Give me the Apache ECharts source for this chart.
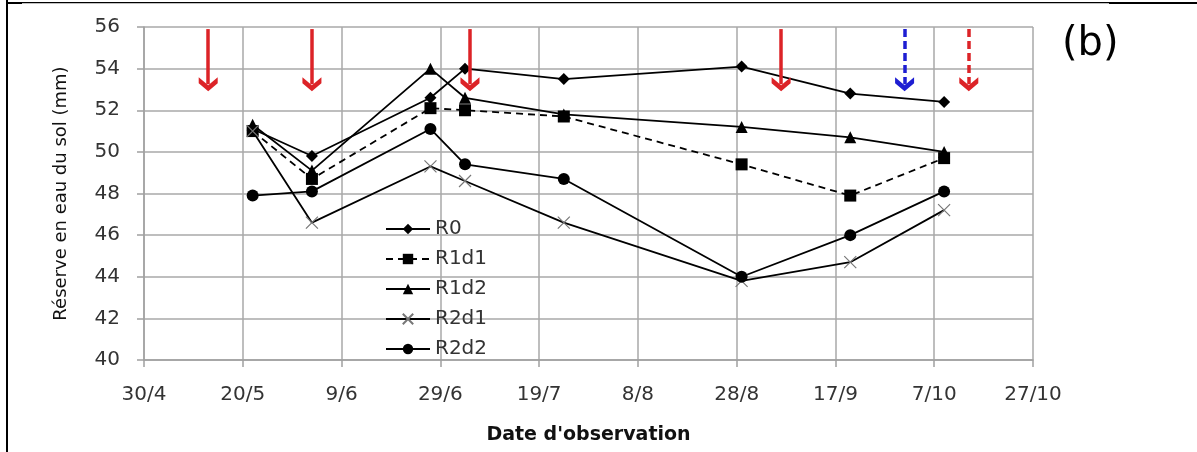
<!DOCTYPE html>
<html>
<head>
<meta charset="utf-8">
<script src="https://cdn.jsdelivr.net/npm/echarts@6/dist/echarts.min.js"></script>
<style>
html,body{margin:0;padding:0;background:#fff;}
#chart{width:1197px;height:452px;}
</style>
</head>
<body>
<div id="chart"></div>
<script>
// ---- Data ----
const dates = ['22/5', '3/6', '27/6', '4/7', '24/7', '29/8', '20/9', '9/10'];
const R0   = [51.1, 49.8, 52.6, 54.0, 53.5, 54.1, 52.8, 52.4];
const R1d1 = [51.0, 48.7, 52.1, 52.0, 51.7, 49.4, 47.9, 49.7];
const R1d2 = [51.3, 49.1, 54.0, 52.6, 51.8, 51.2, 50.7, 50.0];
const R2d1 = [51.0, 46.6, 49.3, 48.6, 46.6, 43.8, 44.7, 47.2];
const R2d2 = [47.9, 48.1, 51.1, 49.4, 48.7, 44.0, 46.0, 48.1];
const xTickStart = '30/4';
const xTickEnd = '27/10';
const yMin = 40, yMax = 56, yStep = 2;
// irrigation arrows: date, kind
const arrowDates = ['13/5', '3/6', '5/7', '6/9', '1/10', '14/10'];
const arrowKinds = ['red', 'red', 'red', 'red', 'blueDash', 'redDash'];
const arrowTop = 55.9, arrowEnd = 53.25;

// ---- helpers ----
const YEAR = 2010;
function toDate(s){ const [d,m] = s.split('/').map(Number); return new Date(YEAR, m-1, d); }
const base = toDate(xTickStart).getTime();
function dayOf(s){ return Math.round((toDate(s).getTime() - base) / 864e5); }
function fmtDay(v){ const dt = new Date(base + v*864e5 + 3600e3*2); return dt.getDate() + '/' + (dt.getMonth()+1); }
const xMax = dayOf(xTickEnd);
const pairs = arr => arr.map((v,i) => [dayOf(dates[i]), v]);

const FONT = 'DejaVu Sans';
const red = '#dc2327', blue = '#1e1ed2';
const chevron = 'path://M9,0L18,8L18,14L9,6L0,14L0,8Z';

const arrowData = arrowDates.map((d,i) => {
  const k = arrowKinds[i];
  const col = k === 'blueDash' ? blue : red;
  return [
    {coord: [dayOf(d), arrowTop], lineStyle: {color: col, width: 3.5, type: k === 'red' ? 'solid' : [8,4]}, itemStyle: {color: col}},
    {coord: [dayOf(d), arrowEnd]}
  ];
});

const lineBase = (name, data, symbol, size, extra) => Object.assign({
  name, type: 'line', data: pairs(data), symbol, symbolSize: size,
  lineStyle: {color: '#000', width: 1.8},
  itemStyle: {color: '#000'},
  z: 3
}, extra || {});

const chart = echarts.init(document.getElementById('chart'), null, {renderer: 'canvas'});
chart.setOption({
  animation: false,
  backgroundColor: '#fff',
  textStyle: {fontFamily: FONT},
  grid: {left: 144, right: 164, top: 27, bottom: 92, containLabel: false},
  xAxis: {
    type: 'value', min: 0, max: xMax, interval: 20,
    name: "Date d'observation", nameLocation: 'middle', nameGap: 66,
    nameTextStyle: {fontFamily: FONT, fontSize: 19, fontWeight: 'bold', color: '#111'},
    axisLine: {show: true, lineStyle: {color: '#a0a0a0', width: 1.5}},
    axisTick: {show: true, length: 7, lineStyle: {color: '#a0a0a0', width: 1.5}},
    axisLabel: {formatter: fmtDay, fontFamily: FONT, fontSize: 20, color: '#333', margin: 25},
    splitLine: {show: true, lineStyle: {color: '#a8a8a8', width: 1.5}}
  },
  yAxis: {
    type: 'value', min: yMin, max: yMax, interval: yStep,
    name: 'Réserve en eau du sol (mm)', nameLocation: 'middle', nameRotate: 90, nameGap: 74,
    nameTextStyle: {fontFamily: FONT, fontSize: 18, color: '#111'},
    axisLine: {show: true, lineStyle: {color: '#a0a0a0', width: 1.5}},
    axisTick: {show: true, length: 7, lineStyle: {color: '#a0a0a0', width: 1.5}},
    axisLabel: {fontFamily: FONT, fontSize: 20, color: '#333', margin: 24},
    splitLine: {show: true, lineStyle: {color: '#a8a8a8', width: 1.5}}
  },
  legend: {
    data: ['R0', 'R1d1', 'R1d2', 'R2d1', 'R2d2'],
    orient: 'vertical', left: 380, top: 214,
    itemWidth: 44, itemHeight: 13, itemGap: 10,
    textStyle: {fontFamily: FONT, fontSize: 20, color: '#333'},
    backgroundColor: 'transparent'
  },
  series: [
    lineBase('R0', R0, 'diamond', 12),
    lineBase('R1d1', R1d1, 'rect', 12, {lineStyle: {color: '#000', width: 1.8, type: [7,5]}}),
    lineBase('R1d2', R1d2, 'triangle', 12),
    lineBase('R2d1', R2d1, 'path://M0,0L10,10M10,0L0,10', 12, {itemStyle: {color: 'none', borderColor: '#777', borderWidth: 1.2}}),
    lineBase('R2d2', R2d2, 'circle', 12),
    {
      name: 'arrows', type: 'line', data: [], silent: true,
      markLine: {
        silent: true, symbol: ['none', chevron], symbolSize: [19, 14],
        label: {show: false}, emphasis: {disabled: true},
        data: arrowData
      }
    }
  ],
  graphic: [
    {type: 'text', left: 1062, top: 25, style: {text: '(b)', font: '40px "DejaVu Sans"', fill: '#000'}},
    {type: 'rect', shape: {x: 6, y: 0, width: 2, height: 452}, style: {fill: '#000'}},
    {type: 'rect', shape: {x: 6, y: 2, width: 1191, height: 1.2}, style: {fill: '#000'}},
    {type: 'rect', shape: {x: 6, y: 2, width: 16, height: 2}, style: {fill: '#000'}},
    {type: 'rect', shape: {x: 1109, y: 2, width: 88, height: 2}, style: {fill: '#000'}}
  ]
});
</script>
</body>
</html>
